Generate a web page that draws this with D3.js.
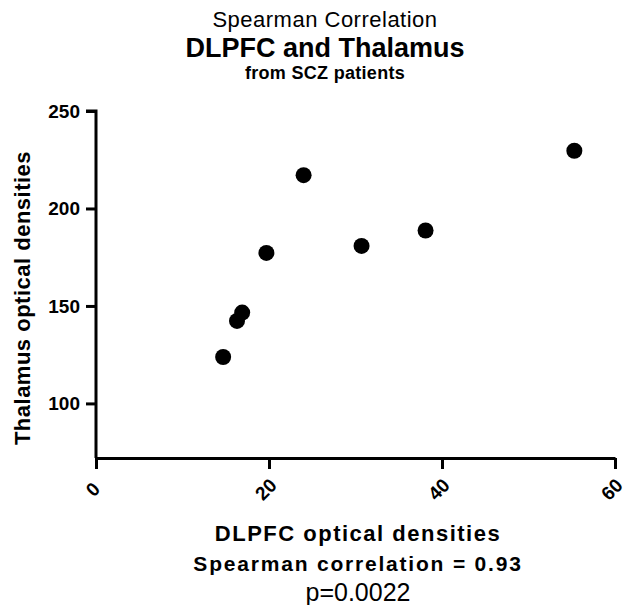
<!DOCTYPE html>
<html>
<head>
<meta charset="utf-8">
<script src="https://cdn.jsdelivr.net/npm/d3@7"></script>
<style>
  body { margin: 0; background: #fff; }
  svg { font-family: Arial, "Liberation Sans", sans-serif; }
</style>
</head>
<body>
<div id="app"></div>
<script>
// DLPFC (x) vs thalamus (y) optical densities, SCZ patients
const dlpfc = [14.7, 16.3, 16.9, 19.7, 24.0, 30.7, 38.1, 55.3];
const thalamus = [123.8, 142.3, 146.6, 177.2, 217.1, 180.8, 188.7, 229.6];
const xTicks = [0, 20, 40, 60];
const yTicks = [100, 150, 200, 250];

const width = 627;
const height = 605;

const svg = d3.select('#app').append('svg')
  .attr('width', width)
  .attr('height', height);

const x = d3.scaleLinear().domain([0, 60]).range([96, 615]);
const y = d3.scaleLinear().domain([72, 250]).range([458, 111]);

// axes
const yAxis = svg.append('g')
  .attr('transform', 'translate(96,0)')
  .call(d3.axisLeft(y).tickValues(yTicks).tickSize(10).tickSizeOuter(0).tickPadding(6));

yAxis.select('.domain').attr('d', `M-10,${y(250)}H0V${y(72)}`);

const xAxis = svg.append('g')
  .attr('transform', 'translate(0,458)')
  .call(d3.axisBottom(x).tickValues(xTicks).tickSize(11).tickSizeOuter(0));

[yAxis, xAxis].forEach(g => {
  g.selectAll('.domain, .tick line')
    .attr('stroke', '#000')
    .attr('stroke-width', 3);
  g.selectAll('text')
    .attr('fill', '#000')
    .style('font-size', '19px')
    .style('font-weight', 'bold');
});

xAxis.selectAll('text')
  .attr('text-anchor', 'middle')
  .attr('x', 0)
  .attr('y', 0)
  .attr('dy', null)
  .attr('transform', 'translate(1,36) rotate(-45)');

// points
svg.append('g')
  .selectAll('circle')
  .data(dlpfc)
  .enter().append('circle')
  .attr('cx', d => x(d))
  .attr('cy', (d, i) => y(thalamus[i]))
  .attr('r', 8)
  .attr('fill', '#000');

// titles
const cx = 325;
svg.append('text').attr('x', cx).attr('y', 27)
  .attr('text-anchor', 'middle').style('font-size', '22px')
  .style('letter-spacing', '0.5px')
  .text('Spearman Correlation');
svg.append('text').attr('x', cx).attr('y', 57)
  .attr('text-anchor', 'middle').style('font-size', '27px').style('font-weight', 'bold')
  .text('DLPFC and Thalamus');
svg.append('text').attr('x', cx).attr('y', 79)
  .attr('text-anchor', 'middle').style('font-size', '18px').style('font-weight', 'bold')
  .style('letter-spacing', '0.3px')
  .text('from SCZ patients');

svg.append('text')
  .attr('transform', 'translate(30,298) rotate(-90)')
  .attr('text-anchor', 'middle').style('font-size', '22px').style('font-weight', 'bold')
  .style('letter-spacing', '0.5px')
  .text('Thalamus optical densities');

svg.append('text').attr('x', 358).attr('y', 541)
  .attr('text-anchor', 'middle').style('font-size', '22px').style('font-weight', 'bold')
  .style('letter-spacing', '1.5px')
  .text('DLPFC optical densities');
svg.append('text').attr('x', 358).attr('y', 571)
  .attr('text-anchor', 'middle').style('font-size', '21px').style('font-weight', 'bold')
  .style('letter-spacing', '1.8px')
  .text('Spearman correlation = 0.93');
svg.append('text').attr('x', 358).attr('y', 601)
  .attr('text-anchor', 'middle').style('font-size', '25px')
  .text('p=0.0022');
</script>
</body>
</html>
